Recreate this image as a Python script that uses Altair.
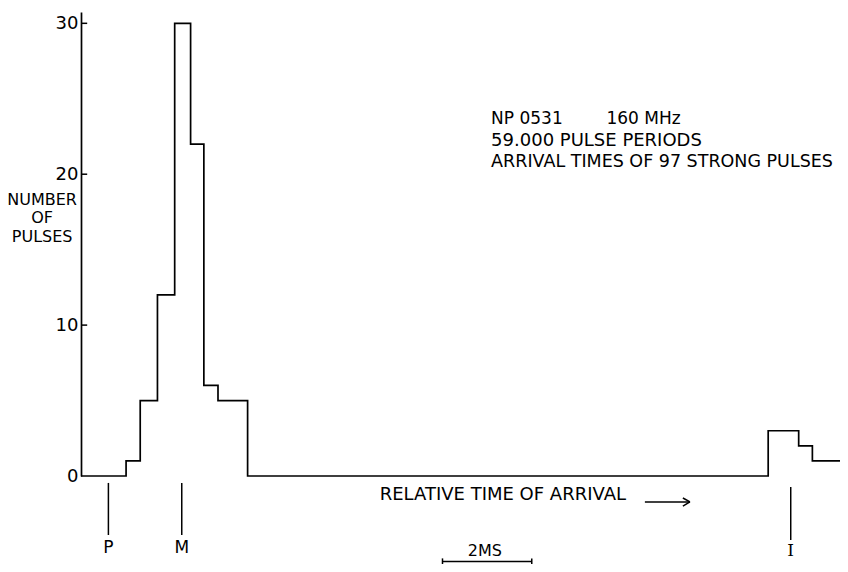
import altair as alt
import pandas as pd

# ---- data (time in ms from the y axis, counts per bin) ----
edges_main = [1.02, 1.34, 1.73, 2.12, 2.48, 2.78, 3.10, 3.44, 3.77]
counts_main = [1, 5, 12, 30, 22, 6, 5, 5]
edges_inter = [15.55, 15.89, 16.24, 16.55, 16.91, 17.27]
counts_inter = [3, 3, 2, 1, 1]
x_end = 17.31
x_view = 17.175
y_max = 30.75
y_ticks = [0, 10, 20, 30]

marker_names = ["P", "M", "I"]
marker_t = [0.62, 2.28, 16.06]

FONT = "DejaVu Sans"

# ---- step outline of the histogram ----
xs, ys = [0.0], [0]
for e, c in zip(edges_main[:-1], counts_main):
    xs.append(e); ys.append(c)
xs.append(edges_main[-1]); ys.append(0)
for e, c in zip(edges_inter[:-1], counts_inter):
    xs.append(e); ys.append(c)
xs.append(edges_inter[-1]); ys.append(0)
xs.append(x_end); ys.append(0)
hist = pd.DataFrame({"t": xs, "n": ys, "o": list(range(len(xs)))})

xsc = alt.Scale(domain=[0, x_view], nice=False, zero=False)
ysc = alt.Scale(domain=[0, y_max], nice=False, zero=False)

line = alt.Chart(hist).mark_line(interpolate="step-after", color="black", strokeWidth=1.7).encode(
    x=alt.X("t:Q", scale=xsc, axis=None),
    y=alt.Y("n:Q", scale=ysc, title=None,
            axis=alt.Axis(values=y_ticks, ticks=False, tickSize=0, grid=False, labelPadding=3,
                          labelFont=FONT, labelFontSize=18, labelColor="black",
                          domainColor="black", domainWidth=1.7, labelFlush=False)),
    order="o:Q",
)

# inward y ticks
tick_df = pd.DataFrame({"t": [0.0] * 3, "t2": [0.14] * 3, "n": y_ticks[1:]})
ticks = alt.Chart(tick_df).mark_rule(color="black", strokeWidth=1.5).encode(
    x=alt.X("t:Q", scale=xsc), x2="t2:Q", y=alt.Y("n:Q", scale=ysc))

# marker lines P, M, I below the axis
mk_df = pd.DataFrame({"name": marker_names, "t": marker_t,
                      "n1": [-0.46, -0.46, -0.73], "n2": [-3.91, -3.91, -4.24],
                      "lab": [-4.8, -4.8, -4.94]})
mk_lines = alt.Chart(mk_df).mark_rule(color="black", strokeWidth=1.5).encode(
    x=alt.X("t:Q", scale=xsc), y=alt.Y("n1:Q", scale=ysc), y2="n2:Q")
mk_text = alt.Chart(mk_df[mk_df.name != "I"]).mark_text(
    font=FONT, fontSize=17, color="black", align="center", baseline="middle").encode(
    x=alt.X("t:Q", scale=xsc), y=alt.Y("lab:Q", scale=ysc), text="name:N")
mk_text_i = alt.Chart(mk_df[mk_df.name == "I"]).mark_text(
    font="DejaVu Serif", fontSize=17, color="black", align="center", baseline="middle").encode(
    x=alt.X("t:Q", scale=xsc), y=alt.Y("lab:Q", scale=ysc), text="name:N")

# left-aligned annotations
notes_left = pd.DataFrame({
    "label": ["NP 0531", "160 MHz", "59.000 PULSE PERIODS",
              "ARRIVAL TIMES OF 97 STRONG PULSES", "RELATIVE TIME OF ARRIVAL"],
    "t": [9.28, 11.89, 9.28, 9.28, 6.76],
    "n": [23.65, 23.65, 22.2, 20.8, -1.26],
    "fs": [17, 17, 18, 17.5, 18],
})
txt_left = alt.Chart(notes_left).mark_text(
    font=FONT, color="black", align="left", baseline="middle").encode(
    x=alt.X("t:Q", scale=xsc), y=alt.Y("n:Q", scale=ysc), text="label:N",
    size=alt.Size("fs:Q", scale=None, legend=None))

# centred annotations
notes_c = pd.DataFrame({
    "label": ["NUMBER", "OF", "PULSES", "2MS"],
    "t": [-0.88, -0.88, -0.88, 9.14],
    "n": [18.3, 17.1, 15.84, -5.0],
})
txt_c = alt.Chart(notes_c).mark_text(
    font=FONT, fontSize=16, color="black", align="center", baseline="middle").encode(
    x=alt.X("t:Q", scale=xsc), y=alt.Y("n:Q", scale=ysc), text="label:N")

# scale bar (2 ms) and arrow
seg_df = pd.DataFrame({
    "t": [8.18, 8.18, 10.20, 12.76, 13.62, 13.62],
    "t2": [10.20, 8.18, 10.20, 13.78, 13.78, 13.78],
    "n": [-5.66, -5.46, -5.46, -1.72, -1.46, -1.99],
    "n2": [-5.66, -5.86, -5.86, -1.72, -1.72, -1.72],
})
segs = alt.Chart(seg_df).mark_rule(color="black", strokeWidth=1.5).encode(
    x=alt.X("t:Q", scale=xsc), x2="t2:Q", y=alt.Y("n:Q", scale=ysc), y2="n2:Q")

chart = alt.layer(line, ticks, mk_lines, mk_text, mk_text_i, txt_left, txt_c, segs).properties(
    width=759, height=464,
    autosize=alt.AutoSizeParams(type="none"),
    padding={"left": 73, "top": 4, "right": 0, "bottom": 88},
    background="white",
).configure_view(stroke=None)

chart.save("out.html", embed_options={"renderer": "svg", "actions": False})
